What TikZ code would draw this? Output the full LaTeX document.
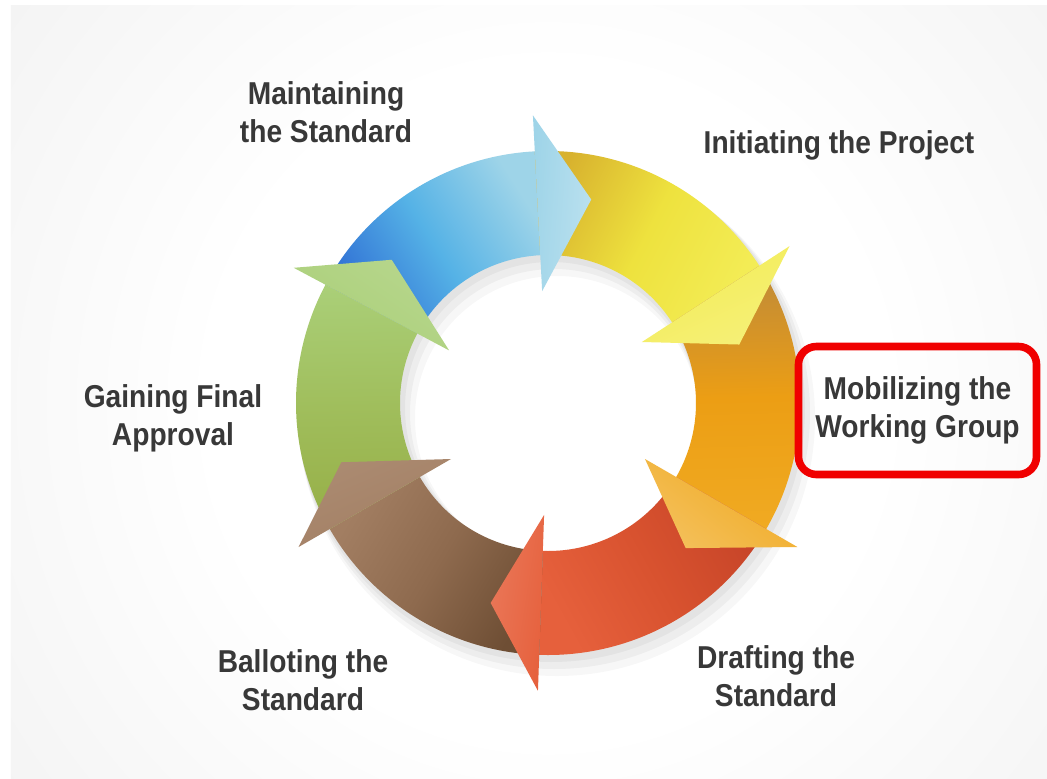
\documentclass[tikz,border=0pt]{standalone}
\usepackage{fontspec}
\newfontfamily\stagefont{Liberation Sans}[FakeStretch=0.89]

\definecolor{bggray}{HTML}{F2F2F2}
\definecolor{txtgray}{HTML}{383838}
\definecolor{boxred}{HTML}{F00000}
\definecolor{blueA}{HTML}{2F6ED4}\definecolor{blueB}{HTML}{55B2E6}\definecolor{blueC}{HTML}{9ED4E8}
\definecolor{yellowA}{HTML}{D8B22E}\definecolor{yellowB}{HTML}{EEE23E}\definecolor{yellowC}{HTML}{F3EC55}
\definecolor{orangeA}{HTML}{BE8A3A}\definecolor{orangeB}{HTML}{EC9E14}\definecolor{orangeC}{HTML}{F0AA22}
\definecolor{redA}{HTML}{C64428}\definecolor{redB}{HTML}{D8522F}\definecolor{redC}{HTML}{E6603C}
\definecolor{brownA}{HTML}{6E4E34}\definecolor{brownB}{HTML}{8E6A4E}\definecolor{brownC}{HTML}{A27E62}
\definecolor{greenA}{HTML}{96AE46}\definecolor{greenB}{HTML}{A0BE5C}\definecolor{greenC}{HTML}{AACF78}

\pgfdeclareradialshading{ringglow}{\pgfpoint{0bp}{0bp}}{color(0bp)=(white); color(12bp)=(white); color(26bp)=(bggray); color(50bp)=(bggray)}
\def\ringbody[#1](#2:#3){\shade[#1] (#2:252) arc[start angle=#2, end angle=#3, radius=252] -- (#3:148) arc[start angle=#3, end angle=#2, radius=148] -- cycle;}
\def\ringhead[#1](#2:#3:#4){\shade[#1] (#2:288) -- (#3:#4) -- (#2:112) -- cycle;}

\begin{document}
\begin{tikzpicture}[x=0.25mm, y=0.25mm,
	stage/.style={font=\stagefont\bfseries\fontsize{22.5}{27}\selectfont, text=txtgray, align=center}]
			%%%%% START %%%%%
			
			\useasboundingbox (-548, -375) rectangle (499, 403);
			\fill[white] (-548, -375) rectangle (499, 403);
			\fill[bggray] (-537, -375) rectangle (499, 397);
			\begin{scope}
				\clip (-537, -375) rectangle (499, 397);
				\shade[shading=ringglow] (0, 0) circle (700);
			\end{scope}
			
			% soft shadow under the ring
			\fill[black, opacity=0.04, even odd rule] (3, -5) circle (254) (3, -5) circle (146);
			\fill[black, opacity=0.04, even odd rule] (6, -10) circle (256) (6, -10) circle (144);
			\fill[black, opacity=0.03, even odd rule] (9, -15) circle (258) (9, -15) circle (142);
			
			\ringbody[left color=blueA, right color=blueC, middle color=blueB, shading angle=122.5](152:93)
			\ringbody[left color=yellowA, right color=yellowC, middle color=yellowB, shading angle=63](93:33)
			\ringbody[left color=orangeA, right color=orangeC, middle color=orangeB, shading angle=1.5](33:-30)
			\ringbody[left color=redA, right color=redC, middle color=redB, shading angle=-61](-30:-92)
			\ringbody[left color=brownA, right color=brownC, middle color=brownB, shading angle=-121](-92:-150)
			\ringbody[left color=greenA, right color=greenC, middle color=greenB, shading angle=-179](-150:-208)
			
			\ringhead[left color=blueC, right color=blueC!70!white, shading angle=85.5](93:78:208)
			\ringhead[left color=yellowC, right color=yellowC!80!white, shading angle=25](33:17:200)
			\ringhead[left color=orangeC, right color=orangeC!75!white, shading angle=-38](-30:-46.5:200)
			\ringhead[left color=redC, right color=redC!85!white, shading angle=-99](-92:-106:208)
			\ringhead[left color=brownC, right color=brownC!90!white, shading angle=-157](-150:-164:215)
			\ringhead[left color=greenC, right color=greenC!85!white, shading angle=145](152:137.5:212)
			
			\node[stage] (maintain) at (-222, 291) {Maintaining\\the Standard};
			\node[stage] (initiate) at (291, 258) {Initiating the Project};
			\node[stage, draw=boxred, line width=1.9mm, rounded corners=4.5mm, minimum width=59.5mm, minimum height=32mm] (mobilize) at (369.5, -7.5) {Mobilizing the\\Working Group};
			\node[stage] (draft) at (228, -273) {Drafting the\\Standard};
			\node[stage] (ballot) at (-245, -277) {Balloting the\\Standard};
			\node[stage] (gain) at (-375, -15) {Gaining Final\\Approval};
			
			%%%%% END %%%%%
\end{tikzpicture}
\end{document}
